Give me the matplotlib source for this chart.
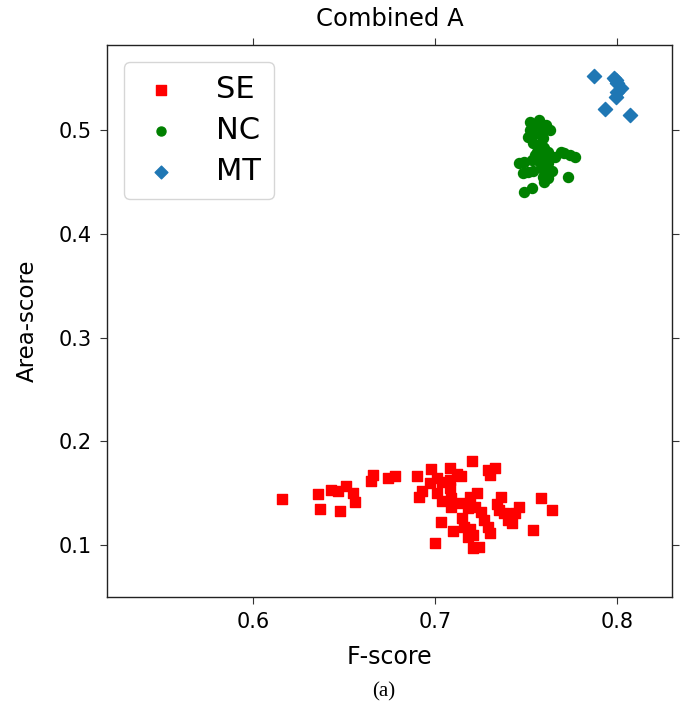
import matplotlib
matplotlib.use("Agg")
import matplotlib.pyplot as plt

# SE (F-score, Area-score)
se_x = [0.616, 0.636, 0.637, 0.643, 0.647, 0.651, 0.655, 0.656, 0.648, 0.666,
        0.665, 0.674, 0.678, 0.690, 0.691, 0.698, 0.708, 0.720, 0.729, 0.733,
        0.730, 0.712, 0.714, 0.701, 0.704, 0.708, 0.697, 0.693, 0.701, 0.704,
        0.708, 0.709, 0.709, 0.714, 0.719, 0.723, 0.718, 0.722, 0.725, 0.715,
        0.716, 0.719, 0.718, 0.721, 0.727, 0.729, 0.730, 0.721, 0.724, 0.703,
        0.710, 0.700, 0.736, 0.734, 0.735, 0.738, 0.740, 0.742, 0.746, 0.744,
        0.758, 0.764, 0.754]
se_y = [0.144, 0.149, 0.135, 0.153, 0.152, 0.157, 0.150, 0.142, 0.133, 0.168,
        0.162, 0.165, 0.167, 0.167, 0.146, 0.173, 0.174, 0.181, 0.172, 0.174,
        0.168, 0.169, 0.167, 0.165, 0.161, 0.163, 0.160, 0.152, 0.150, 0.143,
        0.155, 0.145, 0.137, 0.141, 0.146, 0.150, 0.136, 0.137, 0.132, 0.126,
        0.117, 0.116, 0.108, 0.110, 0.124, 0.117, 0.112, 0.097, 0.098, 0.122,
        0.114, 0.102, 0.146, 0.140, 0.134, 0.131, 0.124, 0.121, 0.137, 0.131,
        0.145, 0.134, 0.115]

# NC
nc_x = [0.752, 0.757, 0.761, 0.763, 0.752, 0.751, 0.754, 0.758, 0.759, 0.754,
        0.757, 0.760, 0.756, 0.759, 0.762, 0.763, 0.766, 0.769, 0.771, 0.774,
        0.777, 0.746, 0.749, 0.753, 0.756, 0.759, 0.762, 0.748, 0.751, 0.754,
        0.758, 0.761, 0.764, 0.759, 0.762, 0.760, 0.773, 0.753, 0.749, 0.758,
        0.759, 0.755, 0.760, 0.755]
nc_y = [0.508, 0.510, 0.505, 0.500, 0.500, 0.493, 0.495, 0.497, 0.492, 0.488,
        0.486, 0.483, 0.479, 0.478, 0.479, 0.474, 0.474, 0.479, 0.478, 0.476,
        0.474, 0.468, 0.469, 0.471, 0.471, 0.471, 0.468, 0.459, 0.460, 0.461,
        0.463, 0.461, 0.461, 0.455, 0.454, 0.450, 0.455, 0.444, 0.440, 0.468,
        0.484, 0.505, 0.502, 0.476]

# MT
mt_x = [0.787, 0.798, 0.800, 0.802, 0.800, 0.799, 0.793, 0.807, 0.799]
mt_y = [0.552, 0.550, 0.545, 0.541, 0.537, 0.532, 0.520, 0.515, 0.548]

fig = plt.figure(figsize=(6.83, 7.18), dpi=100)
ax = fig.add_axes([0.1567, 0.1685, 0.8272, 0.7688])

ax.scatter(se_x, se_y, marker='s', s=52, color='#ff0000', label='SE', zorder=3)
ax.scatter(nc_x, nc_y, marker='o', s=52, color='green', label='NC', zorder=3)
ax.scatter(mt_x, mt_y, marker='D', s=52, color='#1f77b4', label='MT', zorder=3)

ax.set_xlim(0.52, 0.83)
ax.set_ylim(0.05, 0.582)
ax.set_xticks([0.6, 0.7, 0.8])
ax.set_yticks([0.1, 0.2, 0.3, 0.4, 0.5])
ax.tick_params(axis='both', which='both', direction='out', top=True, right=True,
               labelsize=15, length=5, pad=6, color='#333333')
for sp in ax.spines.values():
    sp.set_color('#222222')
    sp.set_linewidth(1.0)

ax.set_xlabel('F-score', fontsize=17, labelpad=9)
ax.set_ylabel('Area-score', fontsize=16.5, labelpad=14)
ax.set_title('Combined A', fontsize=17.5, pad=14)

leg = ax.legend(loc='upper left', fontsize=22, markerscale=0.9,
                handletextpad=1.0, borderpad=0.42, labelspacing=0.4,
                handlelength=1.6, borderaxespad=0.55)
leg.get_frame().set_edgecolor('#cccccc')

fig.text(0.562, 0.037, '(a)', ha='center', va='center',
         fontsize=15, family='Liberation Serif')

fig.savefig('out.png', dpi=100)
